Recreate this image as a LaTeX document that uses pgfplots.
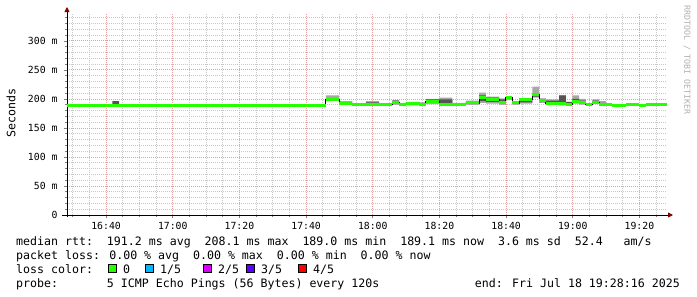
\documentclass[border=0pt]{standalone}
\usepackage{pgfplots}
\pgfplotsset{compat=1.18}
\usepackage{pgfplotstable}
\usetikzlibrary{arrows.meta}
\usepackage{fontspec}
\setmainfont{DejaVu Sans Mono}
\setmonofont{DejaVu Sans Mono}
\definecolor{lossA}{RGB}{38,255,0}
\definecolor{lossB}{RGB}{0,184,255}
\definecolor{lossC}{RGB}{221,0,255}
\definecolor{lossD}{RGB}{94,0,255}
\definecolor{lossE}{RGB}{255,0,0}
\definecolor{smokeL}{RGB}{168,168,168}
\definecolor{smokeD}{RGB}{85,85,85}
\definecolor{gridMin}{RGB}{200,200,200}
\definecolor{gridMaj}{RGB}{226,160,160}
\definecolor{arrowc}{RGB}{128,0,0}
\definecolor{wmark}{RGB}{175,175,175}

\pgfplotstableread{
t med lo hi dlo dhi
28.27 189 189 189 189 189
41.9 189 189 189 189 196
43.9 189 189 189 189 189
105.9 199 197 206 198 201
109.9 192 190 196 191 193
113.9 190 189 191 189 190
117.9 191 189 196 190 194
121.9 190 189 191 189 190
125.9 194 190 198 191 197
127.9 190 189 192 189 190
129.9 192 189 195 190 194
133.9 191 189 194 190 193
135.9 196 191 200 193 199
139.9 190 189 202 190 199
143.9 190 189 193 189 191
147.9 193 190 197 191 195
151.9 203 193 211 196 206
153.9 199 192 204 195 202
157.9 193 190 201 191 199
159.9 202 198 204 200 203
161.9 193 190 195 191 194
163.9 199 192 201 194 200
167.9 207 202 221 204 210
169.9 198 193 201 195 200
171.9 192 190 199 191 197
175.9 192 189 206 194 206
177.9 190 189 195 193 195
179.9 196 192 206 196 200
181.9 193 190 200 192 197
183.9 190 189 191 189 190
185.9 194 192 199 195 197
187.9 190 189 196 190 193
189.9 190 189 190 189 190
191.9 189 189 189 189 189
195.9 191 189 191 189 191
199.9 189 189 189 189 189
201.9 191 189 191 189 191
205.9 190 189 190 189 190
208.27 190 189 190 189 190
}\smoke

\newcommand{\lgfont}{\fontsize{11.6}{12}\selectfont}
\newcommand{\tkfont}{\fontsize{9.8}{10}\selectfont}

\begin{document}
\begin{tikzpicture}[x=1pt,y=1pt]
\path[use as bounding box] (0,0) rectangle (697,-297);
\begin{axis}[
  at={(67pt,-215pt)}, anchor=south west,
  scale only axis, width=600pt, height=202pt,
  xmin=28.27, xmax=208.27, ymin=0, ymax=348,
  axis x line=bottom, axis y line=left,
  axis line style={black, line width=0.9pt, shorten >=-6pt,
     -{Triangle[length=5pt,width=5pt,color=arrowc]}},
  x axis line style={shorten <=-5pt},
  y axis line style={shorten <=-2pt},
  xtick={40,60,80,100,120,140,160,180,200},
  xticklabels={16:40,17:00,17:20,17:40,18:00,18:20,18:40,19:00,19:20},
  minor xtick={30,35,...,205},
  ytick={0,50,100,150,200,250,300},
  yticklabels={0\hspace{13pt},50 m,100 m,150 m,200 m,250 m,300 m},
  minor ytick={10,20,30,40,60,70,80,90,110,120,130,140,160,170,180,190,210,220,230,240,260,270,280,290,310,320,330,340},
  grid=both,
  major grid style={gridMaj, line width=0.8pt, dash pattern=on 1pt off 1pt},
  minor grid style={gridMin, line width=0.8pt, dash pattern=on 1pt off 1pt},
  tick align=outside,
  major tick length=3pt, minor tick length=2pt,
  tick style={gray, line width=0.7pt},
  ticklabel style={font=\tkfont},
  xticklabel style={yshift=-1pt},
  yticklabel style={xshift=-3pt},
]
\addplot[const plot, draw=none, stack plots=y, forget plot] table[x=t,y=lo] {\smoke};
\addplot[const plot, draw=none, fill=smokeL, stack plots=y, forget plot] table[x=t,y expr=\thisrow{hi}-\thisrow{lo}] {\smoke} \closedcycle;
\addplot[const plot, draw=none, stack plots=y, forget plot] table[x=t,y expr=\thisrow{dlo}-\thisrow{hi}] {\smoke};
\addplot[const plot, draw=none, fill=smokeD, stack plots=y, forget plot] table[x=t,y expr=\thisrow{dhi}-\thisrow{dlo}] {\smoke} \closedcycle;
\addplot[const plot, black, line width=0.9pt, forget plot] table[x=t,y=med] {\smoke};
\addplot[jump mark left, lossA, line width=3pt, forget plot] table[x=t,y=med] {\smoke};
\end{axis}
\node[rotate=90, font=\lgfont] at (11,-113) {Seconds};
\node[rotate=-90, font=\fontsize{8.3}{9}\selectfont, text=wmark] at (687,-60) {RRDTOOL / TOBI OETIKER};
\node[anchor=base west, font=\lgfont, inner sep=0pt] at (16,-245) {median rtt:~~191.2 ms avg~~208.1 ms max~~189.0 ms min~~189.1 ms now~~3.6 ms sd~~52.4 ~~am/s};
\node[anchor=base west, font=\lgfont, inner sep=0pt] at (16,-259.5) {packet loss: 0.00 \% avg~~0.00 \% max~~0.00 \% min~~0.00 \% now};
\node[anchor=base west, font=\lgfont, inner sep=0pt] at (16,-273) {loss color:};
\foreach \c/\lab/\xx in {lossA/0/112,lossB/1\slash 5/149,lossC/2\slash 5/207,lossD/3\slash 5/250,lossE/4\slash 5/302}{
  \node[draw=black, line width=0.8pt, fill=\c, minimum size=8pt, inner sep=0pt] at (\xx,-268.8) {};
  \node[anchor=base west, font=\lgfont, inner sep=0pt] at (\xx+11,-273) {\lab};
}
\node[anchor=base west, font=\lgfont, inner sep=0pt] at (16,-287.5) {probe:~~~~~~~5 ICMP Echo Pings (56 Bytes) every 120s};
\node[anchor=base east, font=\lgfont, inner sep=0pt] at (680,-287.5) {end: Fri Jul 18 19:28:16 2025};
\end{tikzpicture}
\end{document}
